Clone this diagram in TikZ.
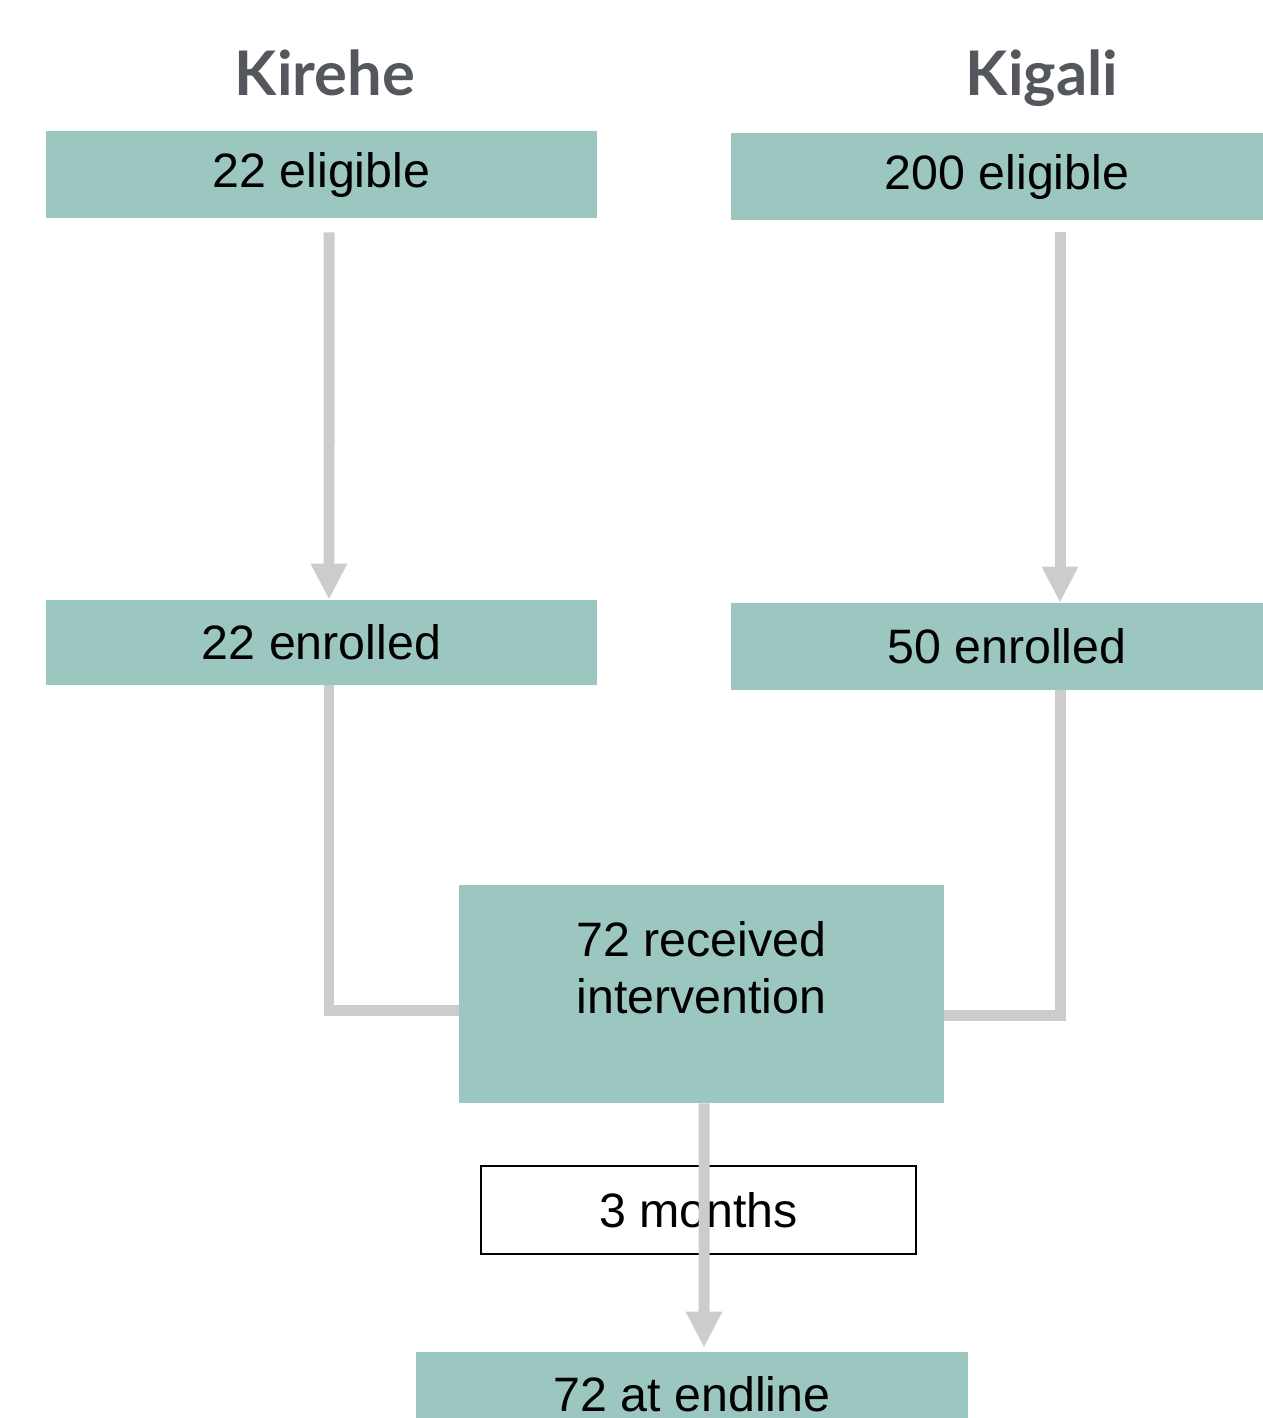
\documentclass[tikz,border=0pt]{standalone}
\usepackage{fontspec}
\setmainfont{Liberation Sans}
\newfontfamily\titlefont{Lato}
\usetikzlibrary{arrows.meta}

\definecolor{boxteal}{HTML}{9BC7C0}
\definecolor{flowgray}{HTML}{CCCCCC}
\definecolor{titlegray}{HTML}{54585D}

\tikzset{
    sitetitle/.style={font=\titlefont\bfseries\fontsize{35}{40}\selectfont, text=titlegray, anchor=base},
    stagebox/.style={fill=boxteal, draw=none, inner sep=0pt, align=center,
        font=\fontsize{27.5}{32.3}\selectfont},
    notebox/.style={fill=white, draw=black, line width=1.1pt, inner sep=0pt,
        font=\fontsize{27.5}{32.3}\selectfont},
    flow/.style={draw=flowgray, line width=0.22cm, line join=miter},
    flowarrow/.style={flow, -{Triangle[width=0.68cm,length=0.72cm]}},
}

\begin{document}
\begin{tikzpicture}[x=0.02cm, y=-0.02cm]
        \useasboundingbox (0,0) rectangle (1263,1418);
        \clip (0,0) rectangle (1263,1418);

        % the site names
        \node[sitetitle] (kirTitle) at (325,95) {Kirehe};
        \node[sitetitle] (kigTitle) at (1042,95) {Kigali};

        % the boxes of the two sites (the Kigali texts sit a bit to the right)
        \node[stagebox, minimum width=11.02cm, minimum height=1.74cm] (kirElig) at (321.5,174.5) {22 eligible};
        \node[stagebox, minimum width=10.64cm, minimum height=1.74cm] (kigElig) at (997,176.5) {\hspace*{0.4cm}200 eligible};
        \node[stagebox, minimum width=11.02cm, minimum height=1.70cm] (kirEnr) at (321.5,642.5) {22 enrolled};
        \node[stagebox, minimum width=10.64cm, minimum height=1.74cm] (kigEnr) at (997,646.5) {\hspace*{0.4cm}50 enrolled};

        % the joint boxes (the empty last line lifts the text up a bit)
        \node[stagebox, minimum width=9.70cm, minimum height=4.36cm] (recv) at (701.5,994) {72 received\\intervention\\[-0.4cm] \strut};
        \node[notebox, minimum width=8.70cm, minimum height=1.76cm] (months) at (698.5,1210) {3 months};
        \node[stagebox, minimum width=11.04cm, minimum height=1.70cm] (endl) at (692,1394.5) {72 at endline};

        % draw the arrows
        \draw[flowarrow] ([shift={(7.5,14)}]kirElig.south) -- ([xshift=0.15cm]kirEnr.north);
        \draw[flowarrow] ([shift={(63,12)}]kigElig.south) -- ([shift={(63,0)}]kigEnr.north);

        % the two sites come together
        \draw[flow] ([xshift=0.15cm]kirEnr.south) |- ([shift={(0,16)}]recv.west);
        \draw[flow] ([shift={(63,0)}]kigEnr.south) |- ([shift={(0,21.5)}]recv.east);

        % last arrow, over the 3 months box
        \draw[flowarrow] ([shift={(2.5,0)}]recv.south) -- ([shift={(12,-4)}]endl.north);

    \end{tikzpicture}
\end{document}
